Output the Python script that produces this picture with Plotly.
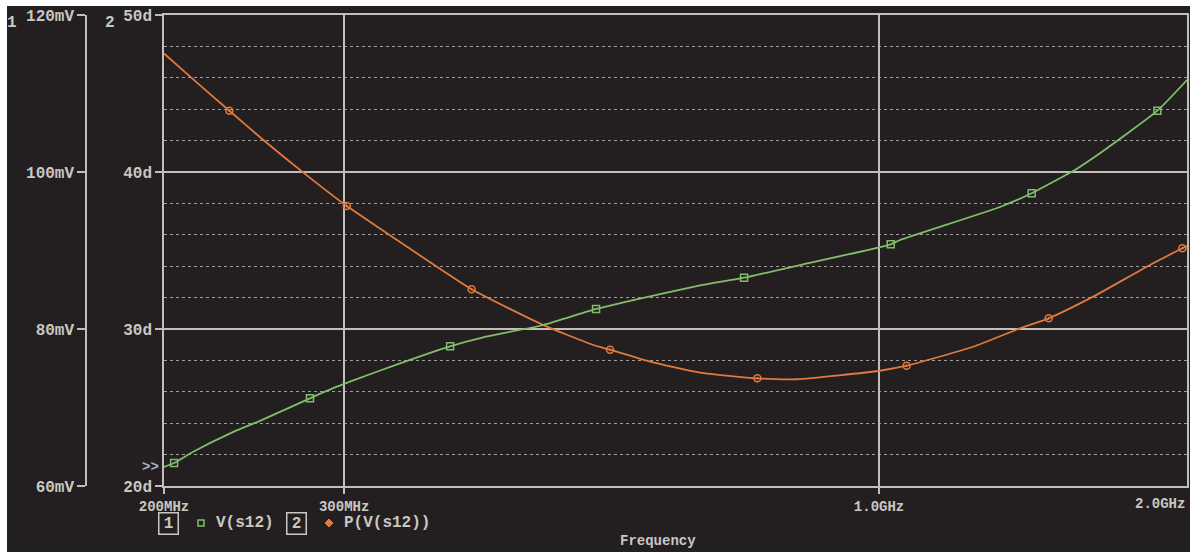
import math
import plotly.graph_objects as go

# ---------------- data ----------------
# V(s12) magnitude, mV, vs frequency (MHz)
v_freq = [200, 204.6, 213.6, 233.8, 248.2, 277.8, 295, 303.9, 340.2, 380.8, 410.3,
          469.8, 528.9, 575.2, 668.5, 738, 836.8, 1026.7, 1048.4, 1313, 1410, 1479,
          1554, 1644, 1871, 2000]
v_mv = [62.42, 62.93, 64.37, 66.9, 68.3, 71.17, 72.65, 73.29, 75.63, 77.80, 78.94,
        80.51, 82.55, 83.69, 85.55, 86.54, 88.15, 90.79, 91.34, 95.54, 97.29, 98.73,
        100.25, 102.38, 107.81, 111.72]
v_marker_idx = [1, 5, 9, 12, 15, 17, 20, 24]

# P(V(s12)) phase, degrees, vs frequency (MHz)
p_freq = [200, 212.1, 231.7, 250.1, 273.7, 301.8, 325.2, 340.2, 399.7, 469.8, 525.7,
          545.8, 597.3, 668.5, 760.4, 831.4, 1002, 1064, 1236, 1373, 1465, 1619,
          1840, 1979, 2000]
p_deg = [47.55, 46.07, 43.90, 42.04, 39.96, 37.83, 36.40, 35.54, 32.53, 30.25, 28.98,
         28.68, 27.92, 27.22, 26.86, 26.80, 27.34, 27.66, 28.87, 30.04, 30.68, 32.06,
         34.08, 35.14, 35.29]
p_marker_idx = [2, 5, 8, 11, 14, 17, 20, 23]

x_tick_vals = [200, 300, 1000]
x_tick_text = ["200MHz", "300MHz", "1.0GHz"]
x_last_tick = 2000
x_last_text = "2.0GHz"

# ---------------- style ----------------
W, H = 1190, 552
BG = "#231f21"
GRID = "#c4beb8"
DOT = "#a09c9a"
TXT = "#c9c7c2"
GREEN = "#80bd6c"
ORANGE = "#e07a3c"
FONT = "Liberation Mono"

ML, MR, MT, MB = 0, 3, 15, 66
PW = W - ML - MR
PH = H - MT - MB
X0 = 164  # plot left edge (px)
AX1 = 86  # mV axis position (px)


def px(x):
    return (x - ML) / PW


def py(y):
    return (H - MB - y) / PH


fig = go.Figure()

fig.add_trace(go.Scatter(x=v_freq, y=v_mv, yaxis="y2", mode="lines",
                         line=dict(color=GREEN, width=1.8, shape="spline", smoothing=0.5),
                         hoverinfo="skip", showlegend=False))
fig.add_trace(go.Scatter(x=[v_freq[i] for i in v_marker_idx], y=[v_mv[i] for i in v_marker_idx],
                         yaxis="y2", mode="markers",
                         marker=dict(symbol="square-open", size=7, color=GREEN, line=dict(width=1.5, color=GREEN)),
                         hoverinfo="skip", showlegend=False))
fig.add_trace(go.Scatter(x=p_freq, y=p_deg, yaxis="y", mode="lines",
                         line=dict(color=ORANGE, width=1.8, shape="spline", smoothing=0.5),
                         hoverinfo="skip", showlegend=False))
fig.add_trace(go.Scatter(x=[p_freq[i] for i in p_marker_idx], y=[p_deg[i] for i in p_marker_idx],
                         yaxis="y", mode="markers",
                         marker=dict(symbol="circle-open-dot", size=7, color=ORANGE, line=dict(width=1.5, color=ORANGE)),
                         hoverinfo="skip", showlegend=False))

yfont = dict(family=FONT, size=16, color=TXT, weight="bold")
xfont = dict(family=FONT, size=14, color=TXT, weight="bold")

fig.update_layout(
    width=W, height=H,
    margin=dict(l=ML, r=MR, t=MT, b=MB, pad=0, autoexpand=False),
    paper_bgcolor=BG, plot_bgcolor=BG,
    showlegend=False,
    xaxis=dict(type="log", range=[math.log10(200), math.log10(2000)],
               domain=[px(X0), 1], automargin=False,
               tickvals=x_tick_vals, ticktext=x_tick_text, tickfont=xfont,
               ticks="outside", ticklen=6, tickcolor=GRID, tickwidth=1.5,
               showgrid=True, gridcolor=GRID, gridwidth=1.5,
               showline=True, linecolor=GRID, linewidth=1.5, mirror=True,
               zeroline=False),
    yaxis=dict(range=[20, 50], dtick=10, ticksuffix="d", tickfont=yfont, automargin=False,
               ticks="outside", ticklen=7, tickcolor=GRID, tickwidth=1.5,
               showgrid=True, gridcolor=GRID, gridwidth=1.5,
               minor=dict(dtick=2, showgrid=True, gridcolor=DOT, griddash="dot", gridwidth=1),
               showline=True, linecolor=GRID, linewidth=1.5, mirror=True,
               zeroline=False),
    yaxis2=dict(range=[60, 120], dtick=20, ticksuffix="mV", tickfont=yfont, automargin=False,
                overlaying="y", anchor="free", position=px(AX1), side="left",
                ticks="outside", ticklen=8, tickcolor=GRID, tickwidth=1.5,
                showgrid=False, showline=True, linecolor=GRID, linewidth=1.5,
                zeroline=False),
)

# white strips at top and left of the picture
fig.add_shape(type="rect", xref="paper", yref="paper", x0=px(-5), x1=px(7), y0=py(-5), y1=py(H + 5),
              fillcolor="white", line=dict(width=0), layer="below")
fig.add_shape(type="rect", xref="paper", yref="paper", x0=px(-5), x1=px(W + 5), y0=py(-5), y1=py(6),
              fillcolor="white", line=dict(width=0), layer="below")

ann = []
ann.append(dict(x=math.log10(x_last_tick), xref="x", y=py(504), yref="paper", text=x_last_text,
                xanchor="right", yanchor="middle", showarrow=False, font=xfont))
lab = dict(family=FONT, size=16, color=TXT, weight="bold")
ann.append(dict(x=px(12), y=py(23), xref="paper", yref="paper", text="1", showarrow=False,
                font=lab, xanchor="center", yanchor="middle"))
ann.append(dict(x=px(110), y=py(23), xref="paper", yref="paper", text="2", showarrow=False,
                font=lab, xanchor="center", yanchor="middle"))
ann.append(dict(x=px(151), y=py(467), xref="paper", yref="paper", text=">>", showarrow=False,
                font=dict(family=FONT, size=14, color="#a9b2c4", weight="bold"), xanchor="center", yanchor="middle"))
ann.append(dict(x=px(658), y=py(541), xref="paper", yref="paper", text="Frequency", showarrow=False,
                font=xfont, xanchor="center", yanchor="middle"))
legend_y = py(523)
ann.append(dict(x=px(168.5), y=legend_y, xref="paper", yref="paper", text="1", showarrow=False,
                font=lab, bordercolor=TXT, borderwidth=1.5, borderpad=1, width=16,
                xanchor="center", yanchor="middle"))
ann.append(dict(x=px(214), y=legend_y, xref="paper", yref="paper", text="V(s12)", showarrow=False,
                font=lab, xanchor="left", yanchor="middle"))
ann.append(dict(x=px(297), y=legend_y, xref="paper", yref="paper", text="2", showarrow=False,
                font=lab, bordercolor=TXT, borderwidth=1.5, borderpad=1, width=16,
                xanchor="center", yanchor="middle"))
ann.append(dict(x=px(342), y=legend_y, xref="paper", yref="paper", text="P(V(s12))", showarrow=False,
                font=lab, xanchor="left", yanchor="middle"))
fig.update_layout(annotations=ann)

# legend symbols
fig.add_shape(type="rect", xref="paper", yref="paper", x0=px(198), x1=px(204), y0=py(526), y1=py(520),
              line=dict(color=GREEN, width=1.5), fillcolor="rgba(0,0,0,0)")
fig.add_shape(type="path", xref="paper", yref="paper",
              path=f"M {px(325)} {py(523)} L {px(329)} {py(519)} L {px(333)} {py(523)} L {px(329)} {py(527)} Z",
              line=dict(color=ORANGE, width=1), fillcolor=ORANGE)

fig.write_html("out.html", config={"displayModeBar": False},
               post_script="document.body.style.margin='0';")
